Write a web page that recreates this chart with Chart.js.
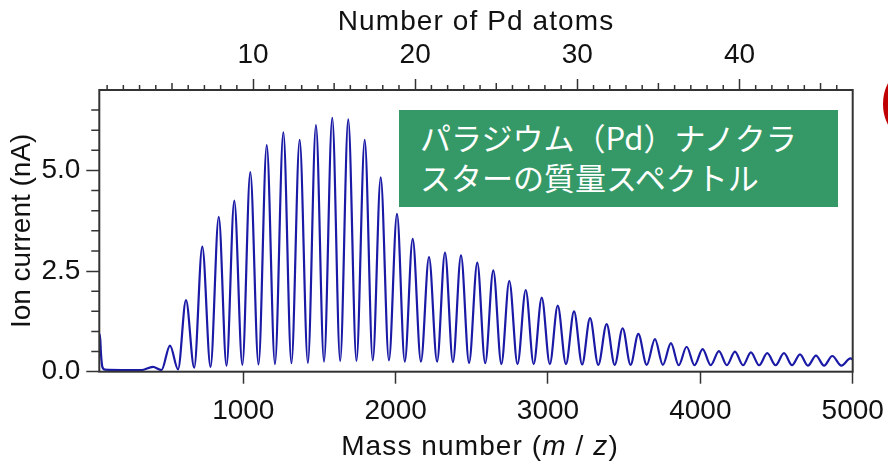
<!DOCTYPE html>
<html>
<head>
<meta charset="utf-8">
<script src="https://cdn.jsdelivr.net/npm/chart.js@4.4.1/dist/chart.umd.min.js"></script>
<style>
  html, body { margin: 0; padding: 0; background: #fff; overflow: hidden; }
  #wrap { position: relative; width: 888px; height: 470px; }
  #note {
    position: absolute; left: 399px; top: 110px; width: 439px; height: 97px;
    box-sizing: border-box; background: #359967; color: #fff;
    font-family: "Noto Sans CJK JP", sans-serif; font-size: 31px; line-height: 40px;
    padding: 7px 0 0 21px; white-space: nowrap;
  }
  #ring {
    position: absolute; left: 883px; top: 59px; width: 90px; height: 90px;
    box-sizing: border-box; border: 8px solid #c00000; border-radius: 50%;
  }
</style>
</head>
<body>
<div id="wrap">
  <canvas id="spec" width="888" height="470"></canvas>
  <div id="note">パラジウム（Pd）ナノクラ<br>スターの質量スペクトル</div>
  <div id="ring"></div>
</div>
<script>
const PD_MASS = 106.42;          // one Pd atom, for the cluster-size axis
const MASS_MIN = 55, MASS_MAX = 5000;

// low-mass edge: spike at the start of the sweep, then flat baseline
const edgeMass    = [55, 59, 66, 75, 92, 200, 330];
const edgeCurrent = [0.85, 0.93, 0.45, 0.12, 0.05, 0.04, 0.04];

// Pd4 ... Pd47 peak tops
const peakMass = [407, 519, 624, 731, 839, 941, 1046, 1154, 1263, 1370, 1477, 1584, 1689, 1797,
  1902, 2009, 2112, 2219, 2324, 2429, 2536, 2641, 2746, 2854, 2959, 3064, 3171, 3276, 3385, 3490,
  3593, 3702, 3807, 3910, 4015, 4122, 4227, 4332, 4439, 4549, 4654, 4759, 4866, 4985];
const peakCurrent = [0.12, 0.65, 1.78, 3.11, 3.85, 4.25, 4.96, 5.63, 5.95, 5.76, 6.13, 6.31, 6.27, 5.76,
  4.83, 3.92, 3.30, 2.85, 2.96, 2.89, 2.71, 2.52, 2.26, 2.03, 1.84, 1.64, 1.50, 1.33, 1.18, 1.08,
  0.94, 0.81, 0.71, 0.62, 0.56, 0.51, 0.50, 0.48, 0.46, 0.46, 0.43, 0.40, 0.39, 0.33];

// minima between neighbouring peaks
const valleyMass = [463, 572, 678, 785, 890, 994, 1100, 1208, 1316, 1424, 1530, 1636, 1743, 1850,
  1956, 2060, 2166, 2272, 2376, 2482, 2588, 2694, 2800, 2906, 3012, 3118, 3224, 3330, 3438, 3542,
  3648, 3754, 3858, 3962, 4068, 4174, 4280, 4386, 4494, 4602, 4706, 4812, 4926];
const valleyCurrent = [0.04, 0.06, 0.10, 0.12, 0.15, 0.17, 0.18, 0.19, 0.21, 0.22, 0.25, 0.27, 0.27, 0.28,
  0.28, 0.25, 0.25, 0.25, 0.24, 0.22, 0.21, 0.19, 0.19, 0.19, 0.19, 0.19, 0.18, 0.17, 0.17, 0.17,
  0.17, 0.17, 0.16, 0.16, 0.16, 0.16, 0.16, 0.16, 0.16, 0.16, 0.15, 0.15, 0.15];

const endMass = [5000], endCurrent = [0.31];

const massTicks = [1000, 2000, 3000, 4000, 5000];
const atomTicks = [10, 20, 30, 40];
const currentTicks = [0, 2.5, 5];

const AXIS = '#333';
const FONT = '"Liberation Sans", Arial, Helvetica, sans-serif';

// stitch the spectrum together in mass order
const spectrum = edgeMass.map((m, i) => ({x: m, y: edgeCurrent[i]}));
peakMass.forEach((m, i) => {
  spectrum.push({x: m, y: peakCurrent[i]});
  if (i < valleyMass.length) spectrum.push({x: valleyMass[i], y: valleyCurrent[i]});
});
endMass.forEach((m, i) => spectrum.push({x: m, y: endCurrent[i]}));

Chart.defaults.font.family = FONT;
Chart.defaults.font.size = 28;
Chart.defaults.color = '#111';

// draws a title made of [text, italic] pieces, centred on cx
function drawRich(ctx, parts, cx, baseline) {
  ctx.letterSpacing = '1.1px';
  const widths = parts.map(([t, it]) => {
    ctx.font = (it ? 'italic ' : '') + '28px ' + FONT;
    return ctx.measureText(t).width;
  });
  let x = cx - widths.reduce((s, w) => s + w, 0) / 2;
  parts.forEach(([t, it], i) => {
    ctx.font = (it ? 'italic ' : '') + '28px ' + FONT;
    ctx.fillText(t, x, baseline);
    x += widths[i];
  });
  ctx.letterSpacing = '0px';
}

// frame, minor ticks and the two horizontal titles
const axisDecor = {
  id: 'axisDecor',
  afterDraw(chart) {
    const {ctx, chartArea: a, scales} = chart;
    ctx.save();
    ctx.strokeStyle = AXIS;
    ctx.lineWidth = 2;
    ctx.strokeRect(a.left, a.top, a.right - a.left, a.bottom - a.top);

    ctx.lineWidth = 1.5;
    ctx.beginPath();
    for (let k = 1; k < 14; k++) {
      const v = k * 0.5;
      if (currentTicks.includes(v)) continue;
      const y = scales.y.getPixelForValue(v);
      ctx.moveTo(a.left - 8, y); ctx.lineTo(a.left, y);
    }
    for (let n = 1; n <= 46; n++) {
      if (atomTicks.includes(n)) continue;
      const x = scales.x2.getPixelForValue(n);
      const len = n % 5 === 0 ? 7 : 5;
      ctx.moveTo(x, a.top - len); ctx.lineTo(x, a.top);
    }
    ctx.stroke();

    ctx.fillStyle = '#111';
    ctx.textBaseline = 'alphabetic';
    const cx = (a.left + a.right) / 2;
    drawRich(ctx, [['Number of Pd atoms', false]], cx, 30);
    drawRich(ctx, [['Mass number (', false], ['m', true], [' / ', false], ['z', true], [')', false]], cx + 4, 455);
    ctx.restore();
  }
};

// horizontal axes: fixed height, no extra side padding for the end labels
const fitHorizontal = h => s => { s.height = h; s.paddingLeft = 0; s.paddingRight = 0; };

new Chart(document.getElementById('spec'), {
  type: 'line',
  data: {
    datasets: [{
      data: spectrum,
      borderColor: '#1a1aa6',
      borderWidth: 2.2,
      pointRadius: 0,
      fill: false,
      cubicInterpolationMode: 'monotone',
      xAxisID: 'x', yAxisID: 'y'
    }]
  },
  options: {
    responsive: false,
    animation: false,
    devicePixelRatio: 1,
    layout: { padding: { left: 0, right: 35.3, top: 0, bottom: 0 } },
    plugins: { legend: { display: false }, tooltip: { enabled: false } },
    scales: {
      x: {
        type: 'linear', position: 'bottom', min: MASS_MIN, max: MASS_MAX,
        afterBuildTicks: s => { s.ticks = massTicks.map(v => ({value: v})); },
        afterFit: fitHorizontal(98.3),
        grid: { drawOnChartArea: false, tickLength: 12, tickColor: AXIS, tickWidth: 1.5 },
        border: { display: false },
        ticks: { padding: 11, maxRotation: 0, autoSkip: false, callback: v => String(v) }
      },
      x2: {
        type: 'linear', position: 'top', min: MASS_MIN / PD_MASS, max: MASS_MAX / PD_MASS,
        afterBuildTicks: s => { s.ticks = atomTicks.map(v => ({value: v})); },
        afterFit: fitHorizontal(90),
        grid: { drawOnChartArea: false, tickLength: 11, tickColor: AXIS, tickWidth: 1.5 },
        border: { display: false },
        ticks: { padding: 7, maxRotation: 0, autoSkip: false, callback: v => String(v) }
      },
      y: {
        type: 'linear', position: 'left', min: 0, max: 7,
        afterBuildTicks: s => { s.ticks = currentTicks.map(v => ({value: v})); },
        afterFit: s => { s.width = 99.3; },
        grid: { drawOnChartArea: false, tickLength: 13, tickColor: AXIS, tickWidth: 1.5 },
        border: { display: false },
        ticks: { padding: 6, autoSkip: false, callback: v => v.toFixed(1) },
        title: { display: true, text: 'Ion current (nA)', padding: { top: 5, bottom: 0 } }
      }
    }
  },
  plugins: [axisDecor]
});
</script>
</body>
</html>
